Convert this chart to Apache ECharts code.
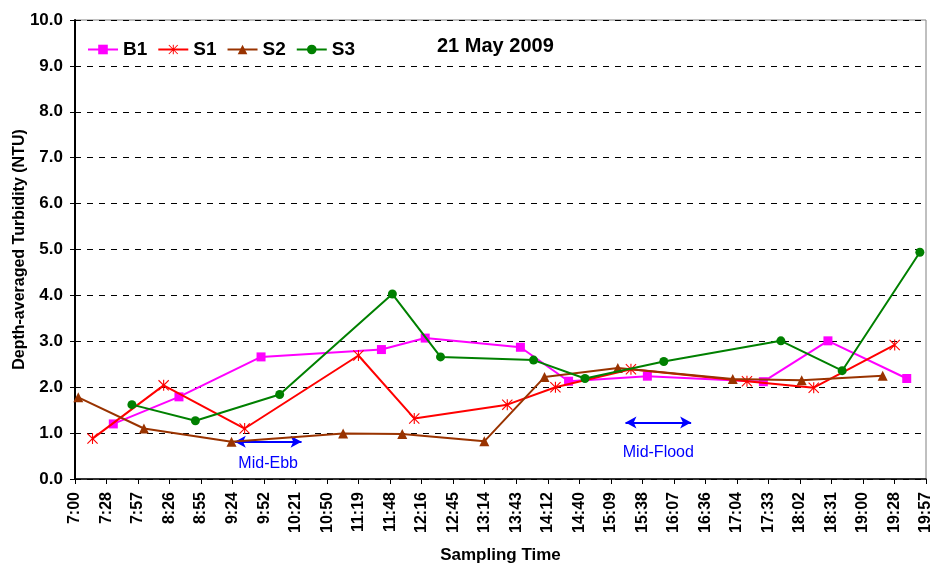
<!DOCTYPE html>
<html>
<head>
<meta charset="utf-8">
<script src="https://cdn.jsdelivr.net/npm/echarts@6/dist/echarts.min.js"></script>
<style>html,body{margin:0;padding:0;background:#fff}#c{width:933px;height:568px}</style>
</head>
<body>
<div id="c"></div>
<script>
// ---- data ----
var seriesNames = ['B1', 'S1', 'S2', 'S3'];
var timesB1 = ['7:35','8:35','9:50','11:40','12:20','13:47','14:31','15:43','17:29','18:28','19:40'];
var valsB1  = [1.20, 1.79, 2.66, 2.82, 3.07, 2.87, 2.13, 2.24, 2.12, 3.01, 2.19];
var timesS1 = ['7:16','8:21','9:35','11:19','12:10','13:35','14:19','15:28','17:14','18:15','19:29'];
var valsS1  = [0.88, 2.04, 1.10, 2.69, 1.32, 1.62, 2.00, 2.39, 2.13, 1.99, 2.92];
var timesS2 = ['7:03','8:03','9:23','11:05','11:59','13:14','14:09','15:16','17:01','18:04','19:18'];
var valsS2  = [1.78, 1.10, 0.81, 0.99, 0.98, 0.82, 2.22, 2.42, 2.18, 2.15, 2.25];
var timesS3 = ['7:52','8:50','10:07','11:50','12:34','13:59','14:46','15:58','17:45','18:41','19:52'];
var valsS3  = [1.62, 1.27, 1.84, 4.03, 2.66, 2.59, 2.19, 2.56, 3.01, 2.36, 4.94];
// annotations (tide phases)
var tideLabels = ['Mid-Ebb', 'Mid-Flood'];
var tideStart  = ['9:26', '15:23'];
var tideEnd    = ['10:27', '16:23'];
var tideLevel  = [0.81, 1.23];
// axis
var axisStartTime = '7:00';
var tickStepMin = 28.8;     // Excel major unit 0.02 day
var tickCount = 27;
var yMin = 0, yMax = 10, yStep = 1;
var titleText = '21 May 2009';
var xName = 'Sampling Time';
var yName = 'Depth-averaged Turbidity (NTU)';

function toMin(t){ var p = t.split(':'); return (+p[0])*60 + (+p[1]); }
var base = toMin(axisStartTime);
function pts(times, vals){ return times.map(function(t,i){ return [toMin(t)-base, vals[i]]; }); }
function fmtTime(v){
  var tot = Math.floor(base + v + 1e-6);
  var h = Math.floor(tot/60), m = tot % 60;
  return h + ':' + (m < 10 ? '0' : '') + m;
}

var FONT = '"Liberation Sans", Arial, sans-serif';
var asterisk = 'path://M9,0L11,0L11,20L9,20Z M0,1.4L1.4,0L20,18.6L18.6,20Z M18.6,0L20,1.4L1.4,20L0,18.6Z';

var colors = ['#FF00FF', '#FF0000', '#993300', '#008000'];
var symbols = ['rect', asterisk, 'triangle', 'circle'];
var sizes = [9, 11, 10, 9];
var allData = [pts(timesB1, valsB1), pts(timesS1, valsS1), pts(timesS2, valsS2), pts(timesS3, valsS3)];

var series = seriesNames.map(function(n, i){
  return {
    name: n, type: 'line', data: allData[i],
    symbol: symbols[i], symbolSize: sizes[i],
    lineStyle: { color: colors[i], width: 2 },
    itemStyle: { color: colors[i] },
    emphasis: { disabled: true },
    animation: false, z: 3 + i
  };
});

var labelDist = [14, 22];
series.push({
  name: 'tide', type: 'line', data: [], animation: false,
  markLine: {
    silent: true, animation: false,
    symbol: ['arrow', 'arrow'], symbolSize: [9, 11],
    lineStyle: { color: '#0000FF', width: 2, type: 'solid' },
    data: tideLabels.map(function(lbl, i){
      return [
        { coord: [toMin(tideStart[i]) - base, tideLevel[i]],
          label: { show: true, formatter: lbl, position: 'insideMiddleBottom', distance: labelDist[i],
                   color: '#0000FF', fontSize: 16, fontFamily: FONT } },
        { coord: [toMin(tideEnd[i]) - base, tideLevel[i]] }
      ];
    })
  }
});

var chart = echarts.init(document.getElementById('c'), null, { renderer: 'canvas' });
chart.setOption({
  animation: false,
  backgroundColor: '#ffffff',
  title: {
    text: titleText, left: 432, top: 31,
    textStyle: { fontFamily: FONT, fontWeight: 'bold', fontSize: 20, color: '#000' }
  },
  legend: {
    data: seriesNames, left: 82, top: 35, itemWidth: 30, itemHeight: 12, itemGap: 10,
    textStyle: { fontFamily: FONT, fontWeight: 'bold', fontSize: 19, color: '#000' }
  },
  grid: { left: 75, right: 7, top: 20, bottom: 89, show: true, borderColor: '#808080', borderWidth: 1,
          containLabel: false, outerBoundsMode: 'none' },
  xAxis: {
    type: 'value', min: 0, max: tickStepMin * tickCount, interval: tickStepMin,
    name: xName, nameLocation: 'middle', nameGap: 68, nameMoveOverlap: false,
    nameTextStyle: { fontFamily: FONT, fontWeight: 'bold', fontSize: 17, color: '#000' },
    axisLine: { show: true, onZero: false, lineStyle: { color: '#000', width: 1.5 } },
    axisTick: { show: true, inside: false, length: 5, lineStyle: { color: '#000' } },
    axisLabel: { rotate: 90, margin: 13, showMaxLabel: true, showMinLabel: true, formatter: fmtTime,
      fontFamily: FONT, fontWeight: 'bold', fontSize: 16, color: '#000' },
    splitLine: { show: false }
  },
  yAxis: {
    type: 'value', min: yMin, max: yMax, interval: yStep,
    name: yName, nameLocation: 'middle', nameGap: 47, nameRotate: 90, nameMoveOverlap: false,
    nameTextStyle: { fontFamily: FONT, fontWeight: 'bold', fontSize: 16, color: '#000' },
    axisLine: { show: true, lineStyle: { color: '#000', width: 2 } },
    axisTick: { show: true, inside: false, length: 5, lineStyle: { color: '#000' } },
    axisLabel: { margin: 12, formatter: function(v){ return v.toFixed(1); },
      fontFamily: FONT, fontWeight: 'bold', fontSize: 17, color: '#000' },
    splitLine: { show: true, lineStyle: { color: '#000', width: 1, type: [6, 6] } }
  },
  series: series
});
</script>
</body>
</html>
